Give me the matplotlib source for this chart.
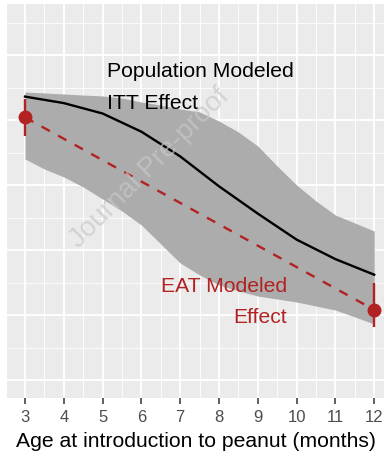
import numpy as np
import matplotlib
matplotlib.use("Agg")
from matplotlib import pyplot as plt

plt.rcParams['font.family'] = ['Liberation Sans', 'DejaVu Sans']

# data (y in arbitrary % units)
age = [3, 4, 5, 6, 7, 8, 9, 10, 11, 12]
itt = [21.8, 21.3, 20.5, 19.1, 17.2, 14.9, 12.8, 10.8, 9.3, 8.1]
band_age = [3, 3.5, 4, 4.5, 5, 5.5, 6, 6.5, 7, 7.5, 8, 8.5, 9, 9.5, 10, 10.5, 11, 11.5, 12]
itt_hi = [22.15, 22.08, 22.0, 21.92, 21.85, 21.69, 21.38, 21.15, 20.85, 20.62,
          19.92, 19.08, 18.0, 16.46, 15.0, 13.77, 12.69, 12.08, 11.46]
itt_lo = [17.0, 16.23, 15.62, 14.85, 13.92, 13.0, 11.92, 10.46, 9.0, 8.08,
          7.31, 6.85, 6.46, 6.23, 6.0, 5.69, 5.38, 4.85, 4.31]
eat_age = [3, 12]
eat = [20.2, 5.4]
eat_lo = [18.8, 4.1]
eat_hi = [21.6, 7.5]

red = '#B22222'

fig = plt.figure(figsize=(3.84, 4.56), dpi=100)
ax = fig.add_axes([7 / 384, 1 - 399 / 456, 1 - 7 / 384, 394 / 456])
ax.set_facecolor('#EBEBEB')

ax.fill_between(band_age, itt_lo, itt_hi, color='#ACACAC', lw=0, zorder=2)
ax.plot(age, itt, color='black', lw=1.7, zorder=3)
ax.plot(eat_age, eat, color=red, lw=1.7, ls=(0, (4, 4)), zorder=3)
ax.vlines(eat_age, eat_lo, eat_hi, color=red, lw=1.7, zorder=4)
ax.plot(eat_age, eat, 'o', color=red, ms=9, zorder=5)

ax.text(5.11, 23.4, 'Population Modeled', fontsize=15.2, color='black', ha='left', va='baseline', zorder=6)
ax.text(5.11, 20.9, 'ITT Effect', fontsize=15.2, color='black', ha='left', va='baseline', zorder=6)
ax.text(9.76, 6.85, 'EAT Modeled', fontsize=15.2, color=red, ha='right', va='baseline', zorder=6)
ax.text(9.76, 4.46, 'Effect', fontsize=15.2, color=red, ha='right', va='baseline', zorder=6)

# watermark
ax.text(6.22, 16.4, 'Journal Pre-proof', fontsize=20, color='#C8C8C8', alpha=0.7,
        rotation=45, ha='center', va='center', zorder=7)

ax.set_xticks(age)
ax.set_xticks(np.arange(2.5, 12.6, 1), minor=True)
ax.set_yticks(np.arange(0, 26, 5))
ax.set_yticks(np.arange(2.5, 29, 5), minor=True)
ax.set_xlim(2.536, 12.253)
ax.set_ylim((381 - 399) / 13, (381 - 5) / 13)
ax.grid(True, which='major', color='white', lw=1.3, zorder=1)
ax.grid(True, which='minor', color='white', lw=0.6, zorder=1)
ax.set_axisbelow(True)
for s in ax.spines.values():
    s.set_visible(False)
ax.tick_params(axis='y', which='both', left=False, labelleft=False)
ax.tick_params(axis='x', which='minor', bottom=False)
ax.tick_params(axis='x', which='major', length=4, width=1.1, color='#333333',
               labelsize=12, labelcolor='#4D4D4D', pad=4)
ax.set_xlabel('Age at introduction to peanut (months)', fontsize=15.2, labelpad=5)

plt.savefig('out.png', dpi=100)
